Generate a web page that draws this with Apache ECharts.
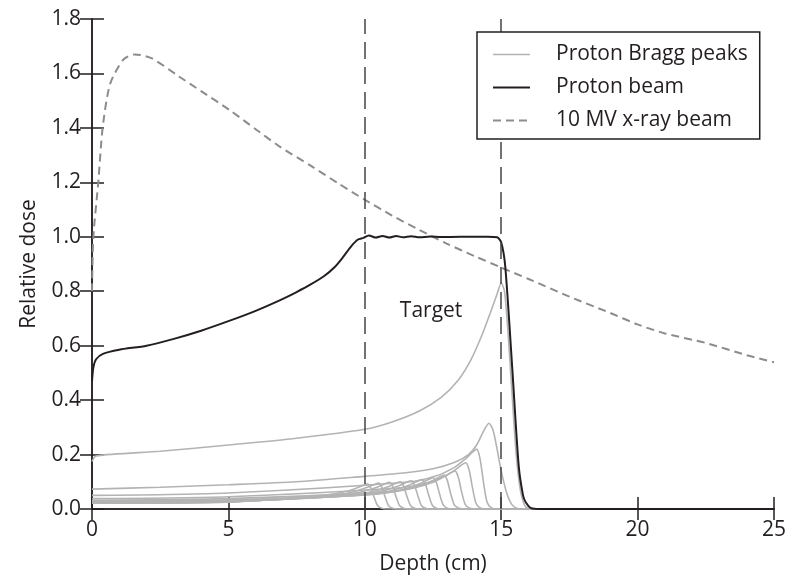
<!DOCTYPE html>
<html>
<head>
<meta charset="utf-8">
<script src="https://cdn.jsdelivr.net/npm/echarts@6/dist/echarts.min.js"></script>
<style>
html,body{margin:0;padding:0;background:#fff;}
#chart{width:789px;height:580px;}
</style>
</head>
<body>
<div id="chart"></div>
<script>
// ---- Data (depth in cm, relative dose) ----
const xTicks = [0, 5, 10, 15, 20, 25];
const yTicks = [0.0, 0.2, 0.4, 0.6, 0.8, 1.0, 1.2, 1.4, 1.6, 1.8];
const targetBounds = [10, 15];
const targetLabel = { text: 'Target', depth: 12.43, dose: 0.726 };

const braggA = [[0,0.021],[5,0.025],[7.6,0.041],[8.6,0.051],[9.3,0.064],[9.7,0.077],[9.95,0.087],[10.1,0.092],[10.22,0.078],[10.35,0.041],[10.48,0.011],[10.65,0.002],[10.9,0],[25,0]];
const braggB = [[0,0.022],[5,0.026],[8.0,0.043],[9.0,0.052],[9.7,0.066],[10.1,0.08],[10.35,0.09],[10.5,0.095],[10.62,0.081],[10.75,0.043],[10.88,0.011],[11.05,0.002],[11.3,0],[25,0]];
const braggC = [[0,0.023],[5,0.027],[8.4,0.044],[9.4,0.054],[10.1,0.069],[10.5,0.082],[10.75,0.093],[10.9,0.098],[11.02,0.083],[11.15,0.044],[11.28,0.012],[11.45,0.002],[11.7,0],[25,0]];
const braggD = [[0,0.023],[5,0.027],[8.8,0.045],[9.8,0.055],[10.5,0.07],[10.9,0.084],[11.15,0.095],[11.3,0.1],[11.42,0.085],[11.55,0.045],[11.68,0.012],[11.85,0.002],[12.1,0],[25,0]];
const braggE = [[0,0.024],[5,0.028],[9.2,0.047],[10.2,0.057],[10.9,0.073],[11.3,0.087],[11.55,0.099],[11.7,0.104],[11.82,0.088],[11.95,0.047],[12.08,0.012],[12.25,0.002],[12.5,0],[25,0]];
const braggF = [[0,0.025],[5,0.029],[9.6,0.049],[10.6,0.059],[11.3,0.076],[11.7,0.091],[11.95,0.103],[12.1,0.108],[12.22,0.092],[12.35,0.049],[12.48,0.013],[12.65,0.002],[12.9,0],[25,0]];
const braggG = [[0,0.027],[5,0.031],[10.0,0.052],[11.0,0.063],[11.7,0.081],[12.1,0.097],[12.35,0.109],[12.5,0.115],[12.62,0.098],[12.75,0.052],[12.88,0.014],[13.05,0.002],[13.3,0],[25,0]];
const braggH = [[0,0.029],[5,0.034],[10.4,0.056],[11.4,0.069],[12.1,0.088],[12.5,0.105],[12.75,0.119],[12.9,0.125],[13.02,0.106],[13.15,0.056],[13.28,0.015],[13.45,0.003],[13.7,0],[25,0]];
const braggI = [[0,0.032],[5,0.038],[10.8,0.063],[11.8,0.077],[12.5,0.098],[12.9,0.118],[13.15,0.133],[13.3,0.14],[13.42,0.119],[13.55,0.063],[13.68,0.017],[13.85,0.003],[14.1,0],[25,0]];
const braggJ = [[0,0.038],[5,0.045],[11.2,0.077],[12.2,0.094],[12.9,0.119],[13.3,0.143],[13.55,0.162],[13.7,0.17],[13.82,0.145],[13.95,0.077],[14.08,0.02],[14.25,0.003],[14.5,0],[25,0]];
const braggK = [[0,0.05],[5,0.059],[11.6,0.099],[12.6,0.121],[13.3,0.154],[13.7,0.185],[13.95,0.209],[14.1,0.22],[14.22,0.187],[14.35,0.099],[14.48,0.026],[14.65,0.004],[14.9,0],[25,0]];
const braggL = [[0,0.073],[2.5,0.08],[5,0.089],[7.5,0.1],[10,0.12],[11.5,0.133],[12.5,0.148],[13.3,0.172],[13.8,0.2],[14.1,0.235],[14.35,0.285],[14.55,0.315],[14.7,0.29],[14.85,0.22],[15.0,0.14],[15.2,0.06],[15.4,0.015],[15.6,0.002],[15.9,0],[25,0]];
const braggM = [[0,0.175],[0.15,0.195],[2.5,0.212],[5,0.235],[7.5,0.26],[10,0.293],[11,0.32],[12,0.36],[12.8,0.41],[13.4,0.47],[13.9,0.55],[14.3,0.64],[14.6,0.72],[14.85,0.79],[15.0,0.83],[15.12,0.8],[15.25,0.65],[15.4,0.42],[15.55,0.2],[15.7,0.07],[15.85,0.015],[16.0,0.002],[16.3,0],[25,0]];
const braggPeakCurves = [braggA, braggB, braggC, braggD, braggE, braggF, braggG, braggH, braggI, braggJ, braggK, braggL, braggM];

const protonBeam = [[0,0.47],[0.05,0.52],[0.15,0.55],[0.4,0.57],[1,0.585],[2,0.6],[3,0.625],[4,0.655],[5,0.69],[6,0.728],[7,0.772],[7.5,0.797],[8,0.824],[8.5,0.855],[8.9,0.889],[9.2,0.925],[9.5,0.965],[9.75,0.99],[9.95,0.996],[10.15,1.005],[10.4,0.997],[10.65,1.003],[10.9,0.997],[11.15,1.003],[11.4,0.998],[11.7,1.002],[12,0.998],[12.4,1.001],[12.8,0.999],[13.5,1.0],[14.5,1.0],[14.85,0.998],[15.0,0.98],[15.15,0.89],[15.4,0.525],[15.64,0.16],[15.8,0.05],[15.9,0.025],[16.1,0.003],[16.4,0],[25,0]];

const xrayBeam = [[0,0.8],[0.05,1.0],[0.23,1.2],[0.39,1.4],[0.66,1.56],[1.14,1.65],[1.57,1.67],[2.2,1.655],[3.2,1.588],[4,1.535],[5.04,1.466],[6,1.395],[6.87,1.332],[8,1.262],[9,1.198],[10,1.136],[11,1.078],[12,1.025],[13,0.975],[14,0.93],[15,0.887],[16,0.845],[17.5,0.78],[19,0.72],[20,0.678],[21,0.645],[22.5,0.61],[24,0.565],[25,0.539]];

const seriesNames = ['Proton Bragg peaks', 'Proton beam', '10 MV x-ray beam'];

// ---- Styles ----
const TXT = '#231f20';
const FONT = 'Open Sans';
const FS = 21;
const COL_BRAGG = '#b3b3b3';
const COL_XRAY = '#8c8c8c';

// legend icons (bounds forced to 37x14 by the leading moves)
const ICON_THIN = 'path://M0 0M37 14M0 6.3h37v1.4H0z';
const ICON_THICK = 'path://M0 0M37 14M0 6h37v2H0z';
const ICON_DASH = 'path://M0 0M37 14M0 6h8v2H0zM13 6h8v2h-8zM26 6h8v2h-8z';

const chart = echarts.init(document.getElementById('chart'), null, { renderer: 'canvas' });

const series = [];
braggPeakCurves.forEach(function (curve) {
  series.push({
    name: seriesNames[0], type: 'line', data: curve, symbol: 'none',
    smooth: 0.25,
    lineStyle: { color: COL_BRAGG, width: 1.6 }, itemStyle: { color: COL_BRAGG },
    z: 2, silent: true
  });
});
series.push({
  name: seriesNames[1], type: 'line', data: protonBeam, symbol: 'none',
  smooth: 0.25,
  lineStyle: { color: TXT, width: 2 }, itemStyle: { color: TXT },
  z: 4,
  markLine: {
    silent: true, symbol: 'none', label: { show: false },
    lineStyle: { color: '#444444', width: 1.5, type: [17, 8] },
    data: targetBounds.map(function (v) { return { xAxis: v }; })
  },
  markPoint: {
    silent: true, symbol: 'rect', symbolSize: 0,
    label: { show: true, position: 'inside', formatter: targetLabel.text, color: TXT, fontSize: FS, fontFamily: FONT },
    data: [{ coord: [targetLabel.depth, targetLabel.dose] }]
  }
});
series.push({
  name: seriesNames[2], type: 'line', data: xrayBeam, symbol: 'none',
  smooth: 0.25,
  lineStyle: { color: COL_XRAY, width: 2, type: [8, 5] }, itemStyle: { color: COL_XRAY },
  z: 3
});

const axisLineStyle = { color: TXT, width: 1.5 };
const baseX = { type: 'value', min: xTicks[0], max: xTicks[xTicks.length - 1], interval: 5 };
const baseY = { type: 'value', min: yTicks[0], max: yTicks[yTicks.length - 1], interval: 0.2 };

chart.setOption({
  animation: false,
  textStyle: { fontFamily: FONT },
  grid: { left: 92, right: 13, top: 19, bottom: 70, containLabel: false },
  legend: {
    z: 20,
    data: [
      { name: seriesNames[0], icon: ICON_THIN, itemStyle: { color: COL_BRAGG } },
      { name: seriesNames[1], icon: ICON_THICK, itemStyle: { color: TXT } },
      { name: seriesNames[2], icon: ICON_DASH, itemStyle: { color: COL_XRAY } }
    ],
    orient: 'vertical', left: 477, top: 32,
    itemWidth: 37, itemHeight: 14, itemGap: 12,
    padding: [12, 12, 8, 16],
    borderColor: TXT, borderWidth: 1.5, backgroundColor: '#fff',
    textStyle: { color: TXT, fontSize: FS, fontFamily: FONT, padding: [0, 0, 0, 21], lineHeight: 21 },
    selectedMode: false
  },
  xAxis: [
    Object.assign({}, baseX, {
      position: 'bottom',
      name: 'Depth (cm)', nameLocation: 'middle', nameGap: 45,
      nameTextStyle: { color: TXT, fontSize: FS, fontFamily: FONT },
      axisLine: { show: true, lineStyle: axisLineStyle },
      axisTick: { show: true, inside: true, length: 12, lineStyle: axisLineStyle },
      axisLabel: { color: TXT, fontSize: FS, fontFamily: FONT, margin: 11 },
      splitLine: { show: false }
    }),
    Object.assign({}, baseX, {
      position: 'top',
      axisLine: { show: true, lineStyle: axisLineStyle },
      axisTick: { show: true, inside: true, length: 11, lineStyle: axisLineStyle },
      axisLabel: { show: false }, splitLine: { show: false }
    })
  ],
  yAxis: [
    Object.assign({}, baseY, {
      position: 'left',
      name: 'Relative dose', nameLocation: 'middle', nameGap: 52, nameRotate: 90,
      nameTextStyle: { color: TXT, fontSize: FS, fontFamily: FONT },
      axisLine: { show: true, lineStyle: axisLineStyle },
      axisTick: { show: true, inside: true, length: 12, lineStyle: axisLineStyle },
      axisLabel: { color: TXT, fontSize: FS, fontFamily: FONT, margin: 11, formatter: function (v) { return v.toFixed(1); } },
      splitLine: { show: false }
    }),
    Object.assign({}, baseY, {
      position: 'right',
      axisLine: { show: true, lineStyle: axisLineStyle },
      axisTick: { show: true, inside: true, length: 12, lineStyle: axisLineStyle },
      axisLabel: { show: false }, splitLine: { show: false }
    })
  ],
  series: series
});
</script>
</body>
</html>
